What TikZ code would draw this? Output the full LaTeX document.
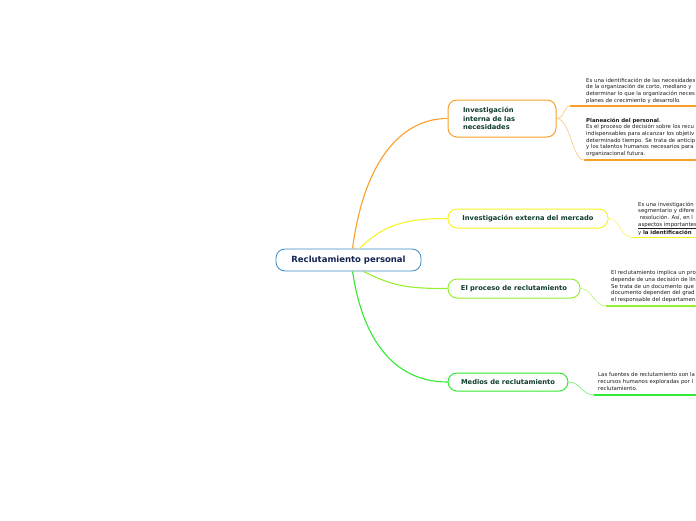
\documentclass[tikz,border=0pt]{standalone}
\usepackage{fontspec}
\setmainfont{DejaVu Sans}
\usepackage{tikz}
\usetikzlibrary{calc}
\definecolor{myblue}{RGB}{60,140,200}
\definecolor{mynavy}{RGB}{20,35,80}
\definecolor{mydkgreen}{RGB}{15,60,45}
\definecolor{myorange}{RGB}{250,160,40}
\definecolor{myyellow}{RGB}{245,245,40}
\definecolor{mylime}{RGB}{150,240,50}
\definecolor{mygreen}{RGB}{50,235,50}
\definecolor{mytext}{RGB}{30,30,30}
\tikzset{
  rootnode/.style={rectangle, draw=myblue, fill=white, line width=0.8pt,
    rounded corners=9pt, minimum width=145pt, minimum height=22pt,
    font=\bfseries\fontsize{8.5}{9}\selectfont, text=mynavy},
  branch/.style={rectangle, fill=white, line width=1pt, rounded corners=9pt,
    minimum height=19pt, font=\bfseries\fontsize{6.7}{8.5}\selectfont,
    text=mydkgreen},
  leaf/.style={anchor=north west, inner sep=0pt, align=left,
    font=\fontsize{5.4}{6.7}\selectfont, text=mytext},
  link/.style={line width=1.1pt},
  twig/.style={line width=0.5pt},
  uline/.style={line width=1.6pt}
}
\begin{document}
\begin{tikzpicture}[x=1pt, y=-1pt]
  \useasboundingbox (0,0) rectangle (696,520);
  \clip (0,0) rectangle (696,520);
  \fill[white] (0,0) rectangle (696,520);

  % Central topic
  \node[rootnode] (root) at (348.5,260) {Reclutamiento personal};

  % Main branches
  \node[branch, draw=myorange, text width=78pt, align=left, inner xsep=15pt,
    minimum height=37pt] (inv1) at (502,118.5)
    {Investigación\\interna de las\\necesidades};
  \node[branch, draw=myyellow, minimum width=160pt] (inv2) at (528,218.5)
    {Investigación externa del mercado};
  \node[branch, draw=mylime, minimum width=132pt] (proc) at (514,288.5)
    {El proceso de reclutamiento};
  \node[branch, draw=mygreen, minimum width=120pt, minimum height=18pt] (med) at (508,382)
    {Medios de reclutamiento};

  % Links from the central topic
  \draw[link, myorange] ([xshift=4pt]root.north) .. controls +(12,-90) and +(-45,0) .. (inv1.west);
  \draw[link, myyellow] ([xshift=11pt]root.north) .. controls +(25,-25) and +(-40,0) .. (inv2.west);
  \draw[link, mylime] ([xshift=15pt]root.south) .. controls +(30,15) and +(-40,0) .. (proc.west);
  \draw[link, mygreen] ([xshift=4pt]root.south) .. controls +(12,80) and +(-45,0) .. (med.west);

  % Anchor points of the notes
  \coordinate (u1a) at (570,106);
  \coordinate (u1b) at (584,160);
  \coordinate (u2) at (632,237.5);
  \coordinate (u3) at (606,306);
  \coordinate (u4) at (594,395);

  % Notes of branch 1
  \node[leaf] (n1a) at (586,77.5) {Es una identificación de las necesidades\\
    de la organización de corto, mediano y\\
    determinar lo que la organización neces\\
    planes de crecimiento y desarrollo.};
  \node[leaf] (n1b) at (586,117.5) {\textbf{Planeación del personal}.\\
    Es el proceso de decisión sobre los recu\\
    indispensables para alcanzar los objetiv\\
    determinado tiempo. Se trata de anticip\\
    y los talentos humanos necesarios para\\
    organizacional futura.};
  \draw[twig, myorange!70] (inv1.east) .. controls +(8,0) and +(-6,0) .. (u1a);
  \draw[twig, myorange!70] (inv1.east) .. controls +(14,0) and +(-12,0) .. (u1b);
  \draw[uline, myorange] (u1a) -- ++(130,0);
  \draw[uline, myorange] (u1b) -- ++(130,0);

  % Note of branch 2
  \node[leaf] (n2) at (638,201.5) {Es una investigación\\
    segmentario y difere\\
    \ resolución. Así, en l\\
    \underline{aspectos importantes}\\
    y \textbf{la identificación}};
  \draw[twig, myyellow!80] (inv2.east) .. controls +(12,0) and +(-12,0) .. (u2);
  \draw[uline, myyellow] (u2) -- ++(70,0);

  % Note of branch 3
  \node[leaf] (n3) at (611,270.5) {El reclutamiento implica un pro\\
    depende de una decisión de lín\\
    Se trata de un documento que\\
    documento dependen del grad\\
    el responsable del departamen};
  \draw[twig, mylime!80] (proc.east) .. controls +(12,0) and +(-12,0) .. (u3);
  \draw[uline, mylime] (u3) -- ++(95,0);

  % Note of branch 4
  \node[leaf] (n4) at (598,372.5) {Las fuentes de reclutamiento son la\\
    recursos humanos exploradas por l\\
    reclutamiento.};
  \draw[twig, mygreen!80] (med.east) .. controls +(12,0) and +(-12,0) .. (u4);
  \draw[uline, mygreen] (u4) -- ++(105,0);
\end{tikzpicture}
\end{document}
